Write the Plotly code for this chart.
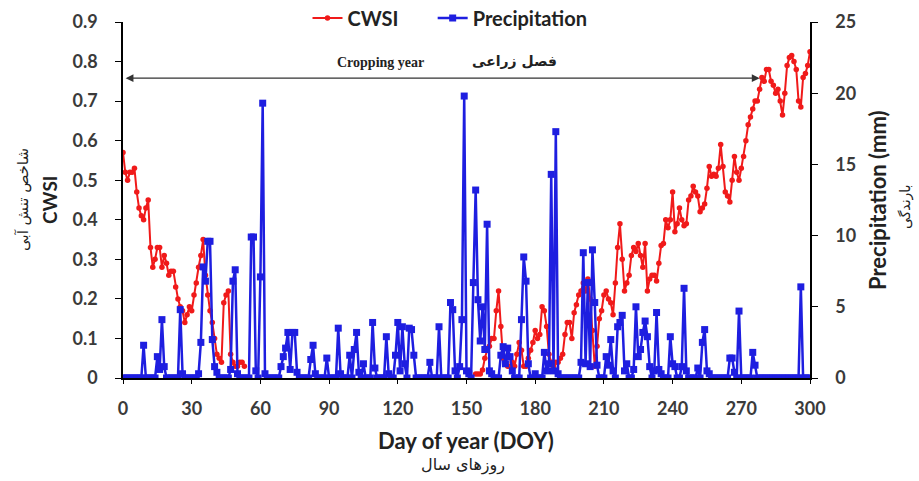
import plotly.graph_objects as go

# ---------------- data ----------------
days = list(range(0, 301))

cwsi_early_start = 0
cwsi_early = [
    0.57, 0.52, 0.50, 0.52, 0.52, 0.53, 0.47, 0.43, 0.41, 0.40,
    0.43, 0.45, 0.33, 0.28, 0.30, 0.33, 0.33, 0.28, 0.31, 0.29,
    0.26, 0.27, 0.27, 0.23, 0.20, 0.18, 0.17, 0.14, 0.16, 0.18,
    0.17, 0.21, 0.24, 0.28, 0.31, 0.35, 0.26, 0.21, 0.17, 0.14,
    0.10, 0.06, 0.05, 0.04, 0.19, 0.21, 0.22, 0.06, 0.04, 0.03,
    0.03, 0.04, 0.04, 0.03,
]

cwsi_late_start = 154
cwsi_late = [
    0.01, 0.01, 0.01, 0.02, 0.05, 0.07, 0.08, 0.10, 0.10, 0.17,
    0.22, 0.13, 0.05, 0.04, 0.03, 0.03, 0.04, 0.03, 0.06, 0.09,
    0.07, 0.03, 0.03, 0.05, 0.07, 0.09, 0.12, 0.10, 0.11, 0.18,
    0.17, 0.13, 0.06, 0.04, 0.03, 0.04, 0.04, 0.05, 0.06, 0.11,
    0.14, 0.14, 0.10, 0.165, 0.185, 0.21, 0.22, 0.24, 0.22, 0.25,
    0.20, 0.12, 0.03, 0.08, 0.15, 0.17, 0.21, 0.22, 0.20, 0.19,
    0.16, 0.24, 0.33, 0.39, 0.30, 0.22, 0.24, 0.26, 0.31, 0.33,
    0.32, 0.34, 0.31, 0.28, 0.34, 0.22, 0.25, 0.26, 0.26, 0.245,
    0.29, 0.335, 0.34, 0.40, 0.38, 0.40, 0.47, 0.37, 0.39, 0.43,
    0.40, 0.385, 0.39, 0.45, 0.46, 0.485, 0.47, 0.46, 0.42, 0.43,
    0.44, 0.48, 0.535, 0.51, 0.515, 0.51, 0.53, 0.59, 0.535, 0.47,
    0.46, 0.445, 0.50, 0.56, 0.52, 0.50, 0.53, 0.56, 0.60, 0.64,
    0.66, 0.68, 0.70, 0.70, 0.73, 0.76, 0.75, 0.78, 0.78, 0.75,
    0.74, 0.72, 0.73, 0.70, 0.665, 0.72, 0.79, 0.81, 0.815, 0.80,
    0.78, 0.70, 0.685, 0.76, 0.77, 0.79, 0.825,
]

rain_days = [
    9, 15, 16, 17, 18, 25, 26, 33, 34, 35, 36, 37, 38, 39, 40, 41,
    47, 48, 49, 50, 56, 57, 58, 60, 61, 62,
    69, 70, 71, 72, 73, 74, 75, 76, 82, 83, 84, 89, 94, 95, 99,
    101, 102, 103, 105, 109, 110, 115, 116, 119, 120, 121, 122, 123,
    125, 126, 127, 134, 138, 143, 144, 145, 147, 148, 149, 150, 151,
    153, 154, 155, 156, 157, 158, 159, 160, 161, 165, 166, 167, 168,
    169, 170, 174, 175, 176, 177, 180, 184, 185, 186, 187, 188, 189,
    190, 200, 201, 202, 203, 204, 205, 206, 207, 211, 212, 213, 214,
    216, 217, 218, 219, 220, 223, 224, 225, 226, 227, 228, 229, 230,
    232, 233, 234, 235, 239, 240, 241, 244, 245, 246, 251, 253, 254,
    255, 256, 265, 266, 267, 269, 275, 276, 296,
]
rain_mm = [
    2.3, 1.5, 0.6, 4.1, 0.8, 4.8, 0.3, 0.3, 2.5, 7.8, 6.8, 9.6, 9.6, 2.7, 0.8, 0.4,
    0.6, 6.8, 7.6, 0.3, 9.9, 9.9, 0.5, 7.1, 19.3, 0.3,
    0.8, 1.5, 2.1, 3.2, 0.6, 3.2, 3.2, 0.4, 1.3, 2.3, 0.3, 1.4, 3.5, 0.3, 1.6,
    2.0, 3.2, 0.4, 1.0, 3.9, 0.7, 2.9, 0.3, 1.6, 3.9, 0.5, 3.6, 1.0,
    3.5, 3.4, 1.6, 1.1, 3.6, 5.3, 4.8, 0.5, 0.8, 4.1, 19.8, 0.5, 0.3,
    6.7, 13.2, 5.5, 2.6, 5.0, 2.0, 10.8, 0.5, 0.3, 1.6, 2.2, 1.0, 2.1,
    1.5, 0.5, 4.1, 8.5, 6.8, 1.0, 0.3, 1.8, 0.5, 1.0, 14.3, 0.5, 17.3,
    0.3, 1.1, 8.8, 1.0, 6.7, 0.8, 9.0, 5.3, 0.9, 1.5, 0.9, 2.7, 0.5,
    3.6, 3.9, 4.4, 0.5, 1.0, 0.6, 5.0, 1.5, 2.0, 3.2, 4.0, 2.9, 0.8,
    0.5, 4.6, 0.6, 0.3, 2.9, 1.0, 0.8, 0.8, 6.3, 0.5, 0.7, 2.5, 3.4,
    0.5, 0.3, 1.4, 1.4, 0.4, 4.7, 1.8, 0.9, 6.4,
]

x_ticks = [0, 30, 60, 90, 120, 150, 180, 210, 240, 270, 300]
y_ticks = [0, 0.1, 0.2, 0.3, 0.4, 0.5, 0.6, 0.7, 0.8, 0.9]
y_tick_text = ["0", "0.1", "0.2", "0.3", "0.4", "0.5", "0.6", "0.7", "0.8", "0.9"]
y2_ticks = [0, 5, 10, 15, 20, 25]

# build daily series
cwsi = [None] * len(days)
for i, v in enumerate(cwsi_early):
    cwsi[cwsi_early_start + i] = v
for i, v in enumerate(cwsi_late):
    cwsi[cwsi_late_start + i] = v
precip = [0.0] * len(days)
for d, v in zip(rain_days, rain_mm):
    precip[d] = v

RED = "#F01A1A"
BLUE = "#1E1EE0"
TICKFONT = dict(family="Lato", size=18, color="#3a3a3a", weight="bold")

fig = go.Figure()
fig.add_trace(go.Scatter(
    x=days, y=cwsi, name="CWSI" + "\u00a0" * 6, mode="lines+markers",
    line=dict(color=RED, width=2), marker=dict(color=RED, size=5.5, symbol="circle"),
    connectgaps=False, yaxis="y",
))
fig.add_trace(go.Scatter(
    x=days, y=precip, name="Precipitation", mode="lines+markers",
    line=dict(color=BLUE, width=2.5), marker=dict(color=BLUE, size=7, symbol="square"),
    yaxis="y2",
))

fig.update_layout(
    width=919, height=481,
    paper_bgcolor="white", plot_bgcolor="white",
    margin=dict(l=123, r=109, t=22, b=103, autoexpand=False),
    showlegend=True,
    legend=dict(orientation="h", x=0.476, xanchor="center", y=1.011, yanchor="middle",
                font=dict(family="Lato", size=20, color="#222", weight="bold"),
                bgcolor="rgba(0,0,0,0)", tracegroupgap=0),
    xaxis=dict(range=[0, 300], tickvals=x_ticks, showgrid=False, zeroline=False,
               showline=True, linecolor="black", linewidth=1.5, ticks="outside",
               ticklen=4, tickcolor="black", tickfont=TICKFONT, ticklabelstandoff=10),
    yaxis=dict(range=[0, 0.9], tickvals=y_ticks, ticktext=y_tick_text, showgrid=False,
               zeroline=False, showline=True, linecolor="black", linewidth=1.5,
               ticks="outside", ticklen=6, tickcolor="black", tickfont=TICKFONT,
               ticklabelstandoff=14),
    yaxis2=dict(range=[0, 25], tickvals=y2_ticks, overlaying="y", side="right",
                showgrid=False, zeroline=False, showline=True, linecolor="black",
                linewidth=1.5, ticks="outside", ticklen=6, tickcolor="black",
                tickfont=TICKFONT, ticklabelstandoff=14),
)

# cropping year arrow
fig.add_annotation(x=278, y=0.758, ax=0.5, ay=0.758, xref="x", yref="y",
                   axref="x", ayref="y", text="", showarrow=True,
                   arrowside="end+start", arrowhead=2, startarrowhead=2,
                   arrowsize=1.2, startarrowsize=1.2, arrowwidth=1.3, arrowcolor="#333")


def add_px(xp, yp, text, size, weight="bold", angle=0, family="Lato", color="#222"):
    fig.add_annotation(x=(xp - 123) / 687, y=(378 - yp) / 356, xref="paper", yref="paper",
                       xanchor="center", yanchor="middle", showarrow=False,
                       text=text, textangle=angle,
                       font=dict(family=family, size=size, color=color, weight=weight))


add_px(380, 62, "Cropping year", 14, family="Liberation Serif")
add_px(514, 61, "فصل زراعی", 14, family="DejaVu Sans")
add_px(49, 200, "CWSI", 19, angle=-90)
add_px(23, 200, "شاخص تنش آبی", 15, weight="normal", angle=-90, family="DejaVu Sans")
add_px(877, 200, "Precipitation (mm)", 22, angle=-90)
add_px(905, 207, "بارندگی", 14, weight="normal", angle=-90, family="DejaVu Sans")
add_px(466, 440, "Day of year (DOY)", 22)
add_px(463, 465, "روزهای سال", 16, weight="normal", family="DejaVu Sans")

fig.write_html("out.html", post_script="document.body.style.margin='0px';",
               config={"displayModeBar": False})
